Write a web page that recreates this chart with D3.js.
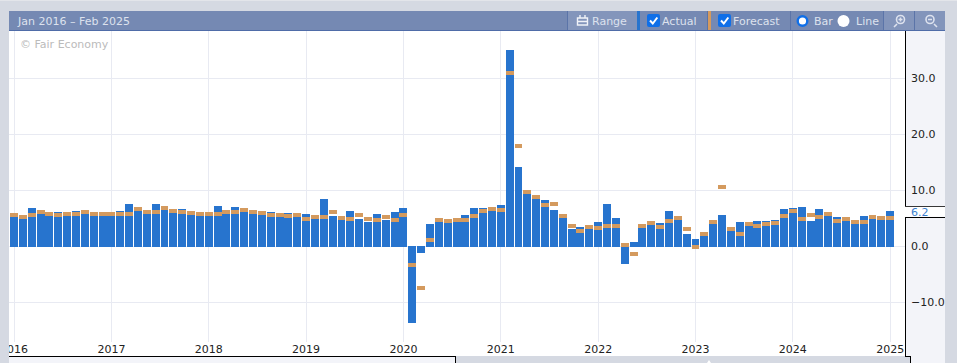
<!DOCTYPE html>
<html>
    <head>
        <meta charset="utf-8">
        <style>
          html, body { margin: 0; padding: 0; background: #d5d9e2; overflow: hidden; }
          svg { display: block; }
          text { font-family: 'DejaVu Sans', sans-serif; font-size: 11px; }
          .bars rect, .panel rect, .grid line { shape-rendering: crispEdges; }
          .grid line { stroke: #e8eaf2; stroke-width: 1; }
          .grid path { display: none; }
          .axis path, .axis line { display: none; }
          .axis text { fill: #222; }
          .head text { fill: #dde2ee; }
        </style>
    </head>
    <body>
        <script src="https://d3js.org/d3.v7.min.js"></script>
        <script>
          // one value per release, left to right
          const actual = [
            5.2, 4.8, 6.8, 5.7, 5.4, 6.0, 5.4, 6.2, 5.7, 5.4,
            5.4, 5.4, 6.2, 7.5, 6.2, 5.7, 7.5, 6.4, 5.9, 6.6,
            5.5, 5.4, 5.4, 7.1, 5.7, 7.0, 6.1, 5.7, 5.5, 6.1,
            5.2, 5.9, 5.2, 5.7, 4.8, 8.4, 5.4, 4.6, 6.2, 4.8,
            4.3, 5.7, 4.6, 6.1, 6.8, -13.7, -1.2, 3.9, 4.3, 4.1,
            4.3, 5.5, 6.8, 6.8, 6.2, 7.3, 35.0, 14.1, 9.3, 8.4,
            8.2, 6.4, 5.0, 3.0, 3.4, 3.0, 4.3, 7.5, 5.0, -3.2,
            0.7, 3.2, 3.8, 4.1, 6.2, 4.6, 2.1, 1.2, 1.8, 3.9,
            5.5, 2.7, 4.3, 3.6, 4.5, 4.5, 4.6, 6.6, 6.8, 7.0,
            4.5, 6.6, 5.4, 5.2, 4.5, 3.9, 5.4, 4.8, 4.6, 6.2
          ];
          const forecast = [
            5.5, 5.2, 5.5, 6.1, 5.7, 5.5, 5.7, 5.7, 6.1, 5.7,
            5.7, 5.7, 5.7, 5.7, 6.6, 6.1, 6.1, 6.8, 6.2, 6.1,
            5.9, 5.7, 5.7, 5.7, 6.1, 6.1, 6.4, 6.1, 5.9, 5.5,
            5.5, 5.4, 5.5, 4.8, 5.2, 5.2, 6.1, 5.0, 4.8, 5.5,
            4.8, 4.6, 5.2, 4.6, 5.5, -3.4, -7.5, 1.1, 4.6, 4.5,
            4.6, 4.6, 5.4, 6.2, 6.6, 6.4, 30.9, 17.9, 9.6, 8.7,
            7.3, 7.5, 5.4, 3.6, 2.7, 3.4, 3.2, 3.6, 3.6, 0.2,
            -1.4, 3.6, 4.1, 3.4, 4.5, 5.0, 3.0, -0.2, 2.1, 4.3,
            10.5, 3.0, 2.1, 3.9, 3.6, 3.9, 4.1, 5.4, 6.2, 4.8,
            5.5, 5.2, 5.7, 4.5, 4.8, 4.3, 4.3, 5.2, 5.0, 5.0
          ];
          const yearLabels = ['2016', '2017', '2018', '2019', '2020', '2021', '2022', '2023', '2024', '2025'];
          const yearBars = [0, 11, 22, 33, 44, 55, 66, 77, 88, 99];
          const yTicks = [-10, 0, 10, 20, 30];
          const dateRange = 'Jan 2016 – Feb 2025';
          const latest = 6.2;

          const width = 957, height = 363;
          const plot = { left: 9, right: 905, top: 31, bottom: 356 };
          const panelRight = 945;

          const svg = d3.select('body').append('svg')
            .attr('width', width)
            .attr('height', height);

          const xScale = d3.scaleBand()
            .domain(actual.map((d, i) => i))
            .range([9.61, 894.61])
            .paddingInner(0.1)
            .paddingOuter(0.05);

          const yScale = d3.scaleLinear()
            .domain([0, 30])
            .range([246, 78]);

          // page, plot and axis panels
          const panel = svg.append('g').attr('class', 'panel');
          panel.append('rect').attr('x', 0).attr('y', 0).attr('width', width).attr('height', 1).attr('fill', '#e3e5ea');
          panel.append('rect').attr('x', plot.left).attr('y', plot.top).attr('width', plot.right - plot.left).attr('height', plot.bottom - plot.top).attr('fill', '#fff');
          panel.append('rect').attr('x', plot.right).attr('y', plot.top).attr('width', panelRight - plot.right).attr('height', height - plot.top).attr('fill', '#f3f4f9');
          panel.append('rect').attr('x', plot.right).attr('y', plot.bottom).attr('width', 5).attr('height', height - plot.bottom).attr('fill', '#d5d9e2');
          panel.append('rect').attr('x', plot.left).attr('y', plot.bottom).attr('width', 446).attr('height', height - plot.bottom).attr('fill', '#f3f4f9');

          // scrollbar thumb tip under the axis
          svg.append('path').attr('d', 'M707,363L709,360L711,363Z').attr('fill', '#fff');

          // gridlines
          svg.append('g')
            .attr('class', 'grid')
            .attr('transform', `translate(0,${plot.bottom - 14})`)
            .call(d3.axisBottom(xScale).offset(0).tickValues(yearBars).tickSize(-(plot.bottom - 14 - plot.top)).tickFormat(''));

          svg.append('g')
            .attr('class', 'grid')
            .attr('transform', `translate(${plot.right},0)`)
            .call(d3.axisLeft(yScale).tickValues(yTicks).tickSize(plot.right - plot.left).tickFormat(''));

          svg.selectAll('.grid text').remove();

          // bars, positive ones run one pixel past the zero line
          svg.append('g')
            .attr('class', 'bars')
            .selectAll('rect')
            .data(actual)
            .join('rect')
            .attr('x', (d, i) => xScale(i))
            .attr('y', d => d >= 0 ? yScale(d) : yScale(0))
            .attr('width', xScale.bandwidth())
            .attr('height', d => d >= 0 ? yScale(0) - yScale(d) + 1 : yScale(d) - yScale(0))
            .attr('fill', '#2774ce');

          svg.append('g')
            .attr('class', 'bars')
            .selectAll('rect')
            .data(forecast)
            .join('rect')
            .attr('x', (d, i) => xScale(i))
            .attr('y', d => yScale(d) - 2)
            .attr('width', xScale.bandwidth())
            .attr('height', 4)
            .attr('fill', '#d49a5e');

          svg.append('text')
            .attr('x', 20).attr('y', 48)
            .attr('fill', '#bbb')
            .text('© Fair Economy');

          // x axis, first label is clipped by the plot edge
          svg.append('clipPath').attr('id', 'x-clip')
            .append('rect').attr('x', plot.left).attr('y', plot.bottom - 20).attr('width', plot.right - plot.left).attr('height', 20);

          svg.append('g')
            .attr('class', 'axis')
            .attr('clip-path', 'url(#x-clip)')
            .append('g')
            .attr('transform', `translate(0,${plot.bottom - 17})`)
            .call(d3.axisBottom(xScale).offset(0).tickValues(yearBars).tickSize(0).tickPadding(6)
              .tickFormat(i => yearLabels[yearBars.indexOf(i)]));

          // y axis on the right
          svg.append('g')
            .attr('class', 'axis')
            .attr('transform', `translate(${plot.right},0)`)
            .call(d3.axisRight(yScale).tickValues(yTicks).tickSize(0).tickPadding(6).tickFormat(d3.format('.1f')));

          // black frame around the axes
          const frame = svg.append('g').attr('fill', 'none').attr('stroke', '#000').attr('stroke-width', 1).attr('shape-rendering', 'crispEdges');
          const latestY = yScale(latest);
          frame.append('path').attr('d', `M${plot.right + 0.5},31V${latestY + 5.5 - 10}H${panelRight}`);
          frame.append('path').attr('d', `M${panelRight},${latestY + 6}H${plot.right + 0.5}V356.5H910.5V363`);
          frame.append('path').attr('d', `M9,356.5H455.5V363`);

          // current value flag
          svg.append('rect')
            .attr('x', plot.right).attr('y', latestY - 4.5).attr('width', panelRight - plot.right).attr('height', 10).attr('fill', '#fff');
          svg.append('text')
            .attr('x', 911).attr('y', latestY + 4.5)
            .attr('fill', '#3a7fd0')
            .text(latest.toFixed(1));

          // header toolbar
          const head = svg.append('g').attr('class', 'head');
          head.append('rect').attr('x', plot.left).attr('y', 11).attr('width', panelRight - plot.left).attr('height', 20).attr('fill', '#7589b3').attr('shape-rendering', 'crispEdges');
          head.append('rect').attr('x', plot.left).attr('y', 30).attr('width', panelRight - plot.left).attr('height', 1).attr('fill', '#4f6ca8').attr('shape-rendering', 'crispEdges');
          head.append('text').attr('x', 18).attr('y', 25).text(dateRange);

          head.append('rect').attr('x', 568).attr('y', 11).attr('width', 69).attr('height', 19).attr('fill', '#8395bb').attr('shape-rendering', 'crispEdges');
          head.append('rect').attr('x', 884).attr('y', 11).attr('width', 61).attr('height', 19).attr('fill', '#8395bb').attr('shape-rendering', 'crispEdges');
          [567, 707, 790, 883, 914].forEach(x => {
            head.append('rect').attr('x', x).attr('y', 11).attr('width', 1).attr('height', 19).attr('fill', '#5b74a8').attr('shape-rendering', 'crispEdges');
          });
          head.append('rect').attr('x', 637).attr('y', 11).attr('width', 3).attr('height', 19).attr('fill', '#2774ce').attr('shape-rendering', 'crispEdges');
          head.append('rect').attr('x', 708).attr('y', 11).attr('width', 3).attr('height', 19).attr('fill', '#d49a5e').attr('shape-rendering', 'crispEdges');

          head.append('text').attr('x', 592).attr('y', 25).text('Range');
          head.append('text').attr('x', 662).attr('y', 25).text('Actual');
          head.append('text').attr('x', 733).attr('y', 25).text('Forecast');
          head.append('text').attr('x', 814).attr('y', 25).text('Bar');
          head.append('text').attr('x', 856).attr('y', 25).text('Line');

          // calendar icon
          head.append('path').attr('d', 'M577.5,18h10v7h-10z M577.5,21.5h10 M580,15v3 M585,15v3').attr('fill', 'none').attr('stroke', '#f0f2f8').attr('stroke-width', 1.4);

          // checkboxes
          [647, 718].forEach(x => {
            head.append('rect').attr('x', x).attr('y', 14).attr('width', 13).attr('height', 13).attr('rx', 2).attr('fill', '#0f6fe8');
            head.append('path').attr('d', `M${x + 3},20.5l2.8,3l4.5,-6`).attr('fill', 'none').attr('stroke', '#fff').attr('stroke-width', 2);
          });

          // radios
          head.append('circle').attr('cx', 802.5).attr('cy', 21).attr('r', 4.8).attr('fill', '#fff').attr('stroke', '#0f6fe8').attr('stroke-width', 2.4);
          head.append('circle').attr('cx', 843.5).attr('cy', 21).attr('r', 6).attr('fill', '#fff');

          // zoom in and zoom out
          head.append('path').attr('d', 'M897,24l-3,3 M904.5,19.5a4,4 0 1 1 -8,0a4,4 0 1 1 8,0 M900.5,17.5v4 M898.5,19.5h4').attr('fill', 'none').attr('stroke', '#dde2ee').attr('stroke-width', 1.6);
          head.append('path').attr('d', 'M934,24l3,3 M934,19.5a4,4 0 1 1 -8,0a4,4 0 1 1 8,0 M928,19.5h4').attr('fill', 'none').attr('stroke', '#dde2ee').attr('stroke-width', 1.6);
        </script>
    </body>
</html>
